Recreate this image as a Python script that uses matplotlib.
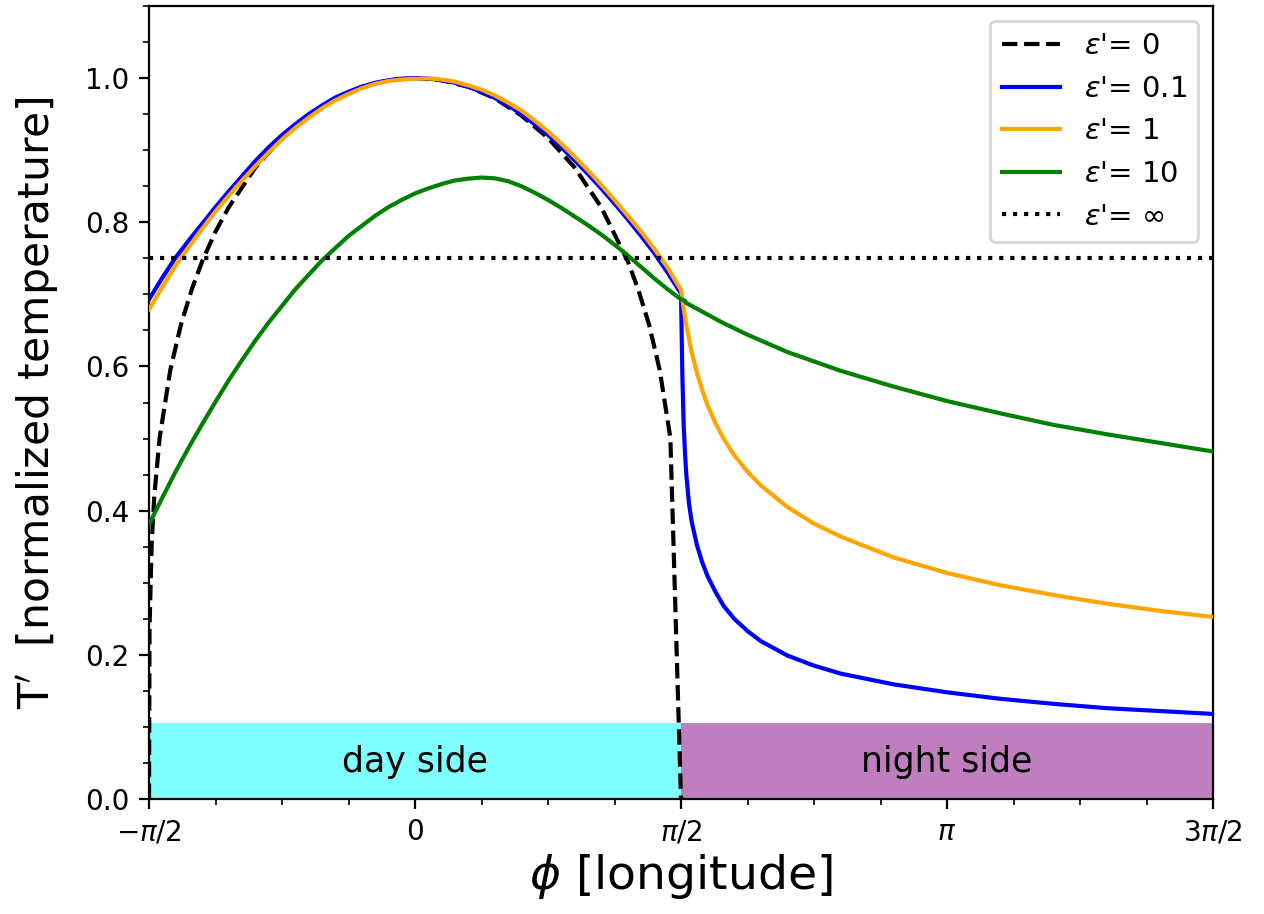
"""Normalized temperature along the equator for several heat-redistribution efficiencies."""

import numpy as np
import matplotlib
matplotlib.use("Agg")
import matplotlib.pyplot as plt
from matplotlib.patches import Rectangle
from matplotlib.ticker import MultipleLocator

# longitudes are given in units of pi
phi_eps0 = [-0.5, -0.499, -0.495, -0.49, -0.48, -0.46, -0.44, -0.42, -0.4, -0.375, -0.35,
            -0.3, -0.25, -0.2, -0.15, -0.1, -0.05, 0.0, 0.05, 0.1, 0.15, 0.2, 0.25, 0.3,
            0.35, 0.4, 0.42, 0.44, 0.46, 0.48, 0.5]
T_eps0 = [0.0, 0.237, 0.354, 0.421, 0.501, 0.595, 0.658, 0.706, 0.746, 0.787, 0.821,
          0.876, 0.917, 0.948, 0.972, 0.988, 0.997, 1.0, 0.997, 0.988, 0.972, 0.948, 0.917, 0.876,
          0.821, 0.746, 0.706, 0.658, 0.595, 0.501, 0.0]

phi_day = [-0.5, -0.475, -0.45, -0.425, -0.4, -0.375, -0.35, -0.325, -0.3, -0.275,
           -0.25, -0.225, -0.2, -0.175, -0.15, -0.125, -0.1, -0.075, -0.05, -0.025,
           0.0, 0.025, 0.05, 0.075, 0.1, 0.125, 0.15, 0.175, 0.2, 0.225,
           0.25, 0.275, 0.3, 0.325, 0.35, 0.375, 0.4, 0.425, 0.45, 0.475, 0.5]
phi_night = [0.5, 0.5025, 0.505, 0.5075, 0.51, 0.515, 0.52, 0.53, 0.54, 0.55, 0.565, 0.58,
             0.6, 0.625, 0.65, 0.7, 0.75, 0.8, 0.9, 1.0, 1.1, 1.2, 1.3, 1.4, 1.5]

T_eps01_day = [0.693, 0.723, 0.751, 0.775, 0.798, 0.821, 0.843, 0.864, 0.885, 0.904,
               0.921, 0.936, 0.950, 0.962, 0.973, 0.981, 0.988, 0.9935, 0.997, 0.9993,
               1.0, 0.9993, 0.997, 0.9935, 0.988, 0.981, 0.9725, 0.962, 0.950, 0.936,
               0.921, 0.904, 0.886, 0.867, 0.847, 0.826, 0.804, 0.781, 0.757, 0.730, 0.701]
T_eps01_night = [0.701, 0.59, 0.52, 0.48, 0.45, 0.41, 0.385, 0.352, 0.328, 0.309, 0.287, 0.268,
                 0.250, 0.233, 0.219, 0.199, 0.185, 0.174, 0.159, 0.148, 0.139, 0.132, 0.126,
                 0.122, 0.118]

T_eps1_day = [0.679, 0.710, 0.740, 0.766, 0.791, 0.815, 0.837, 0.858, 0.878, 0.897,
              0.915, 0.931, 0.945, 0.958, 0.969, 0.978, 0.986, 0.992, 0.996, 0.998,
              0.999, 0.9995, 0.998, 0.995, 0.990, 0.984, 0.976, 0.966, 0.955, 0.941,
              0.926, 0.909, 0.891, 0.872, 0.852, 0.831, 0.809, 0.787, 0.763, 0.737, 0.706]
T_eps1_night = [0.706, 0.694, 0.680, 0.669, 0.658, 0.639, 0.620, 0.591, 0.567, 0.546, 0.521, 0.500,
                0.477, 0.454, 0.435, 0.405, 0.382, 0.364, 0.335, 0.3135, 0.2965, 0.283, 0.271,
                0.261, 0.2525]

T_eps10_day = [0.381, 0.418, 0.454, 0.488, 0.520, 0.551, 0.581, 0.609, 0.636, 0.661,
               0.684, 0.707, 0.727, 0.747, 0.764, 0.781, 0.795, 0.809, 0.821, 0.831,
               0.840, 0.847, 0.853, 0.858, 0.8605, 0.862, 0.861, 0.857, 0.850, 0.841,
               0.831, 0.820, 0.808, 0.796, 0.783, 0.769, 0.754, 0.738, 0.722, 0.707, 0.693]
T_eps10_night = [0.693, 0.6925, 0.692, 0.691, 0.688, 0.686, 0.684, 0.680, 0.676, 0.672, 0.666,
                 0.660, 0.653, 0.644, 0.636, 0.620, 0.607, 0.594, 0.572, 0.552, 0.535, 0.519,
                 0.506, 0.494, 0.482]

T_eps_inf = 0.751

xticks = [-0.5, 0.0, 0.5, 1.0, 1.5]
xtick_labels = [r"$-\pi/2$", "0", r"$\pi/2$", r"$\pi$", r"$3\pi/2$"]


def to_rad(values):
    return np.array(values) * np.pi


def draw_sides(ax):
    # coloured bars at the bottom marking day and night side
    ax.add_patch(Rectangle((-np.pi / 2, 0), np.pi, 0.105, facecolor="cyan", alpha=0.5,
                           edgecolor="none", zorder=1))
    ax.add_patch(Rectangle((np.pi / 2, 0), np.pi, 0.105, facecolor="purple", alpha=0.5,
                           edgecolor="none", zorder=1))
    ax.text(0, 0.052, "day side", fontsize=12.5, ha="center", va="center")
    ax.text(np.pi, 0.052, "night side", fontsize=12.5, ha="center", va="center")


def draw_curves(ax):
    phi_all = to_rad(phi_day + phi_night[1:])
    ax.plot(to_rad(phi_eps0), T_eps0, "k--", label=r"$\varepsilon$'= 0", zorder=3)
    ax.plot(phi_all, T_eps01_day + T_eps01_night[1:], color="blue",
            label=r"$\varepsilon$'= 0.1", zorder=3)
    ax.plot(phi_all, T_eps1_day + T_eps1_night[1:], color="orange",
            label=r"$\varepsilon$'= 1", zorder=3)
    ax.plot(phi_all, T_eps10_day + T_eps10_night[1:], color="green",
            label=r"$\varepsilon$'= 10", zorder=3)
    ax.axhline(T_eps_inf, color="k", linestyle=":", label=r"$\varepsilon$'= $\infty$",
               zorder=3)


def create_plot():
    fig = plt.figure(figsize=(6.32, 4.57), dpi=200)
    ax = fig.add_axes([149 / 1264, 1 - 799 / 914, 1064 / 1264, 793 / 914])

    draw_sides(ax)
    draw_curves(ax)

    ax.set_xlim(-np.pi / 2, 3 * np.pi / 2)
    ax.set_ylim(0, 1.1)
    ax.set_xticks(to_rad(xticks))
    ax.set_xticklabels(xtick_labels)
    ax.xaxis.set_minor_locator(MultipleLocator(np.pi / 8))
    ax.yaxis.set_major_locator(MultipleLocator(0.2))
    ax.yaxis.set_minor_locator(MultipleLocator(0.05))

    ax.set_xlabel(r"$\phi$ [longitude]", fontsize=17, labelpad=2)
    ax.set_ylabel(r"T$^{\prime}$  [normalized temperature]", fontsize=15.3, labelpad=9)
    ax.legend(loc="upper right", fontsize=10.5)

    fig.savefig("out.png", dpi=200)


if __name__ == "__main__":
    create_plot()
